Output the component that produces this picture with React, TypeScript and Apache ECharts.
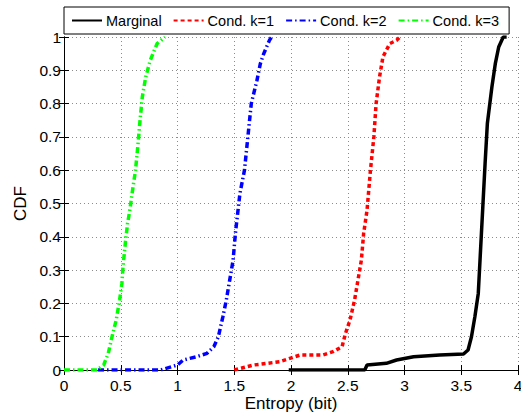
import React, { useEffect, useRef } from "react";
import * as echarts from "echarts";

const seriesNames = ["Marginal", "Cond. k=1", "Cond. k=2", "Cond. k=3"];

const marginalX = [1.98, 2.65, 2.67, 2.84, 2.93, 3.08, 3.31, 3.52, 3.56, 3.59, 3.62, 3.65, 3.67, 3.69, 3.71, 3.73, 3.77, 3.80, 3.83, 3.87, 3.90];
const marginalY = [0.0, 0.0, 0.015, 0.02, 0.03, 0.04, 0.045, 0.048, 0.06, 0.10, 0.16, 0.23, 0.36, 0.49, 0.62, 0.74, 0.85, 0.92, 0.97, 1.0, 1.0];

const cond1X = [1.5, 1.67, 1.79, 1.90, 1.99, 2.08, 2.28, 2.37, 2.45, 2.48, 2.52, 2.56, 2.59, 2.62, 2.64, 2.67, 2.70, 2.73, 2.75, 2.78, 2.81, 2.87, 2.93, 2.96];
const cond1Y = [0.0, 0.015, 0.02, 0.025, 0.035, 0.045, 0.045, 0.055, 0.07, 0.11, 0.15, 0.21, 0.27, 0.33, 0.41, 0.48, 0.60, 0.70, 0.80, 0.88, 0.94, 0.98, 0.99, 1.0];

const cond2X = [0.3, 0.85, 1.0, 1.05, 1.17, 1.26, 1.32, 1.36, 1.40, 1.43, 1.46, 1.49, 1.51, 1.53, 1.55, 1.59, 1.62, 1.65, 1.70, 1.73, 1.76, 1.81, 1.83];
const cond2Y = [0.0, 0.0, 0.015, 0.03, 0.04, 0.05, 0.07, 0.10, 0.16, 0.21, 0.27, 0.33, 0.41, 0.47, 0.53, 0.60, 0.70, 0.80, 0.87, 0.92, 0.95, 0.99, 1.0];

const cond3X = [0.0, 0.29, 0.35, 0.39, 0.43, 0.46, 0.49, 0.51, 0.52, 0.54, 0.56, 0.58, 0.60, 0.63, 0.65, 0.67, 0.69, 0.72, 0.76, 0.82, 0.89];
const cond3Y = [0.0, 0.0, 0.015, 0.05, 0.11, 0.15, 0.21, 0.26, 0.31, 0.38, 0.44, 0.48, 0.53, 0.60, 0.67, 0.75, 0.82, 0.88, 0.93, 0.98, 1.0];

const xTicks = [0, 0.5, 1, 1.5, 2, 2.5, 3, 3.5, 4];
const yTicks = [0, 0.1, 0.2, 0.3, 0.4, 0.5, 0.6, 0.7, 0.8, 0.9, 1];

const zip = (xs: number[], ys: number[]) => xs.map((x, i) => [x, ys[i]]);

const FONT = "Liberation Sans";

export default function App() {
  const ref = useRef<HTMLDivElement>(null);
  useEffect(() => {
    if (!ref.current) return;
    const chart = echarts.init(ref.current, null, { renderer: "svg" });
    const fmtX = (v: number) => (xTicks.includes(v) ? String(v) : "");
    const fmtY = (v: number) => {
      const r = Math.round(v * 10) / 10;
      return yTicks.includes(r) ? String(r) : "";
    };
    const baseX = { type: "value" as const, min: 0, max: 4, interval: 0.5 };
    const baseY = { type: "value" as const, min: 0, max: 1, interval: 0.1 };
    const tick = { show: true, inside: true, length: 5, lineStyle: { color: "#000000" } };
    const axLine = { show: true, lineStyle: { color: "#000000", width: 1 } };
    const grid = { show: true, lineStyle: { color: "#8c8c8c", type: [1, 3], width: 1 } };
    chart.setOption({
      animation: false,
      backgroundColor: "#ffffff",
      textStyle: { fontFamily: FONT },
      grid: { left: 64, right: 3, top: 37, bottom: 47, containLabel: false, outerBoundsMode: "none" },
      legend: {
        left: 64,
        top: 7,
        data: seriesNames,
        orient: "horizontal",
        backgroundColor: "#ffffff",
        borderColor: "#000000",
        borderWidth: 1,
        borderRadius: 0,
        padding: [6, 10, 6, 7],
        itemWidth: 30,
        itemHeight: 14,
        itemGap: 11,
        itemStyle: { opacity: 0 },
        textStyle: { fontFamily: FONT, fontSize: 14.5, color: "#000000", padding: [0, 0, 0, -1] },
      },
      xAxis: [
        {
          ...baseX,
          position: "bottom",
          name: "Entropy (bit)",
          nameLocation: "middle",
          nameGap: 25,
          nameMoveOverlap: false,
          nameTextStyle: { fontFamily: FONT, fontSize: 17, color: "#000000" },
          axisLine: axLine,
          axisTick: tick,
          axisLabel: { fontFamily: FONT, fontSize: 15.5, color: "#000000", margin: 7, formatter: fmtX },
          splitLine: grid,
        },
        {
          ...baseX,
          position: "top",
          axisLine: axLine,
          axisTick: tick,
          axisLabel: { show: false },
          splitLine: { show: false },
        },
      ],
      yAxis: [
        {
          ...baseY,
          position: "left",
          name: "CDF",
          nameLocation: "middle",
          nameGap: 35,
          nameMoveOverlap: false,
          nameTextStyle: { fontFamily: FONT, fontSize: 17, color: "#000000" },
          axisLine: axLine,
          axisTick: tick,
          axisLabel: { fontFamily: FONT, fontSize: 15.5, color: "#000000", margin: 3, formatter: fmtY },
          splitLine: grid,
        },
        {
          ...baseY,
          position: "right",
          axisLine: axLine,
          axisTick: tick,
          axisLabel: { show: false },
          splitLine: { show: false },
        },
      ],
      series: [
        {
          name: seriesNames[0],
          type: "line",
          data: zip(marginalX, marginalY),
          showSymbol: false,
          symbol: "none",
          color: "#000000",
          lineStyle: { color: "#000000", width: 3.5, type: "solid" },
          z: 4,
        },
        {
          name: seriesNames[1],
          type: "line",
          data: zip(cond1X, cond1Y),
          showSymbol: false,
          symbol: "none",
          color: "#ff0000",
          lineStyle: { color: "#ff0000", width: 3.5, type: [4, 3] },
          z: 3,
        },
        {
          name: seriesNames[2],
          type: "line",
          data: zip(cond2X, cond2Y),
          showSymbol: false,
          symbol: "none",
          color: "#0000ff",
          lineStyle: { color: "#0000ff", width: 3.5, type: [6, 3, 1.5, 3] },
          z: 3,
        },
        {
          name: seriesNames[3],
          type: "line",
          data: zip(cond3X, cond3Y),
          showSymbol: false,
          symbol: "none",
          color: "#00ff00",
          lineStyle: { color: "#00ff00", width: 3.5, type: [6, 3, 1.5, 3] },
          z: 3,
        },
      ],
    });
    return () => chart.dispose();
  }, []);
  return <div ref={ref} style={{ width: 521, height: 417, position: "absolute", left: 0, top: 0 }} />;
}
